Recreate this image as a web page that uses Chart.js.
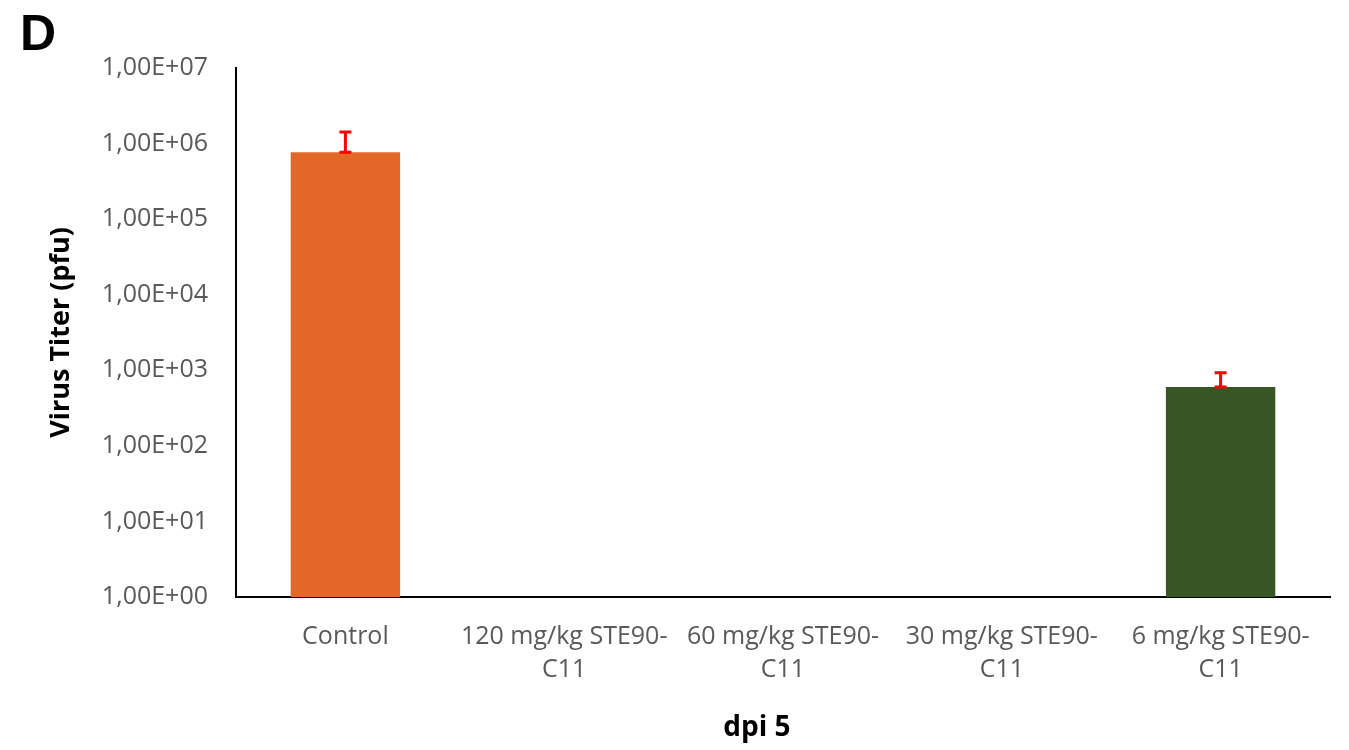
<!DOCTYPE html>
<html>
<head>
<meta charset="utf-8">
<script src="https://cdn.jsdelivr.net/npm/chart.js@4/dist/chart.umd.min.js"></script>
<style>
  body { margin: 0; background: #fff; }
  #wrap { width: 1349px; height: 750px; position: relative; }
</style>
</head>
<body>
<div id="wrap"><canvas id="titer-chart"></canvas></div>
<script>
let categories = [
    'Control',
    ['120 mg/kg STE90-', 'C11'],
    ['60 mg/kg STE90-', 'C11'],
    ['30 mg/kg STE90-', 'C11'],
    ['6 mg/kg STE90-', 'C11']
];
let titer_values = [770000, null, null, null, 600];
let titer_errors = [650000, null, null, null, 330];
let bar_colors = ['#E4672A', '#E4672A', '#E4672A', '#E4672A', '#375623'];
let y_ticks = [1, 10, 100, 1000, 10000, 100000, 1000000, 10000000];

let FONT = '"Open Sans", "Liberation Sans", sans-serif';

// red error bars, only the upper half like the original
let error_bars = {
    id: 'error_bars',
    afterDatasetsDraw: function(chart) {
        let ctx = chart.ctx;
        let y = chart.scales.y;
        let meta = chart.getDatasetMeta(0);
        ctx.save();
        ctx.strokeStyle = '#FF0000';
        ctx.lineWidth = 3;
        for (let i = 0; i < titer_values.length; i++) {
            if (titer_values[i] == null || titer_errors[i] == null) continue;
            let x = meta.data[i].x;
            let top = y.getPixelForValue(titer_values[i] + titer_errors[i]);
            let bottom = y.getPixelForValue(titer_values[i]);
            ctx.beginPath();
            ctx.moveTo(x, top);
            ctx.lineTo(x, bottom);
            ctx.moveTo(x - 6, top);
            ctx.lineTo(x + 6, top);
            ctx.moveTo(x - 6, bottom);
            ctx.lineTo(x + 6, bottom);
            ctx.stroke();
        }
        ctx.restore();
    }
};

let extra_text = {
    id: 'extra_text',
    afterDraw: function(chart) {
        let ctx = chart.ctx;
        ctx.save();
        ctx.fillStyle = '#000';
        ctx.textBaseline = 'middle';
        ctx.textAlign = 'left';
        ctx.font = 'bold 50px "Liberation Sans", Arial, sans-serif';
        ctx.fillText('D', 20, 36);
        ctx.textAlign = 'center';
        ctx.font = 'bold 28px ' + FONT;
        ctx.fillText('dpi 5', 757, 728);
        ctx.restore();
    }
};

let chart = new Chart(document.getElementById('titer-chart'), {
    type: 'bar',
    data: {
        labels: categories,
        datasets: [{
            label: 'Virus Titer',
            data: titer_values,
            backgroundColor: bar_colors,
            categoryPercentage: 1,
            barPercentage: 0.5
        }]
    },
    options: {
        responsive: true,
        maintainAspectRatio: false,
        animation: false,
        layout: { padding: { top: 68, right: 19, bottom: 0, left: 0 } },
        plugins: {
            legend: { display: false },
            tooltip: { enabled: false }
        },
        scales: {
            x: {
                grid: { display: false, drawTicks: false },
                border: { color: '#000', width: 2 },
                ticks: {
                    color: '#595959',
                    padding: 24,
                    maxRotation: 0,
                    autoSkip: false,
                    font: { family: FONT, size: 25, lineHeight: 1.3 }
                },
                afterFit: function(scale) { scale.height = 153; }
            },
            y: {
                type: 'logarithmic',
                min: 1,
                max: 10000000,
                grid: { display: false, drawTicks: false },
                border: { color: '#000', width: 2 },
                afterBuildTicks: function(scale) {
                    scale.ticks = y_ticks.map(function(v) { return { value: v, major: true }; });
                },
                ticks: {
                    color: '#595959',
                    padding: 28,
                    font: { family: FONT, size: 25 },
                    callback: function(value) {
                        let e = Math.round(Math.log10(value));
                        return '1,00E+' + String(e).padStart(2, '0');
                    }
                },
                title: {
                    display: true,
                    text: 'Virus Titer (pfu)',
                    color: '#000',
                    padding: { top: 45, bottom: 0 },
                    font: { family: FONT, size: 27, weight: 'bold' }
                },
                afterFit: function(scale) { scale.width = 236; }
            }
        }
    },
    plugins: [error_bars, extra_text]
});
</script>
</body>
</html>
